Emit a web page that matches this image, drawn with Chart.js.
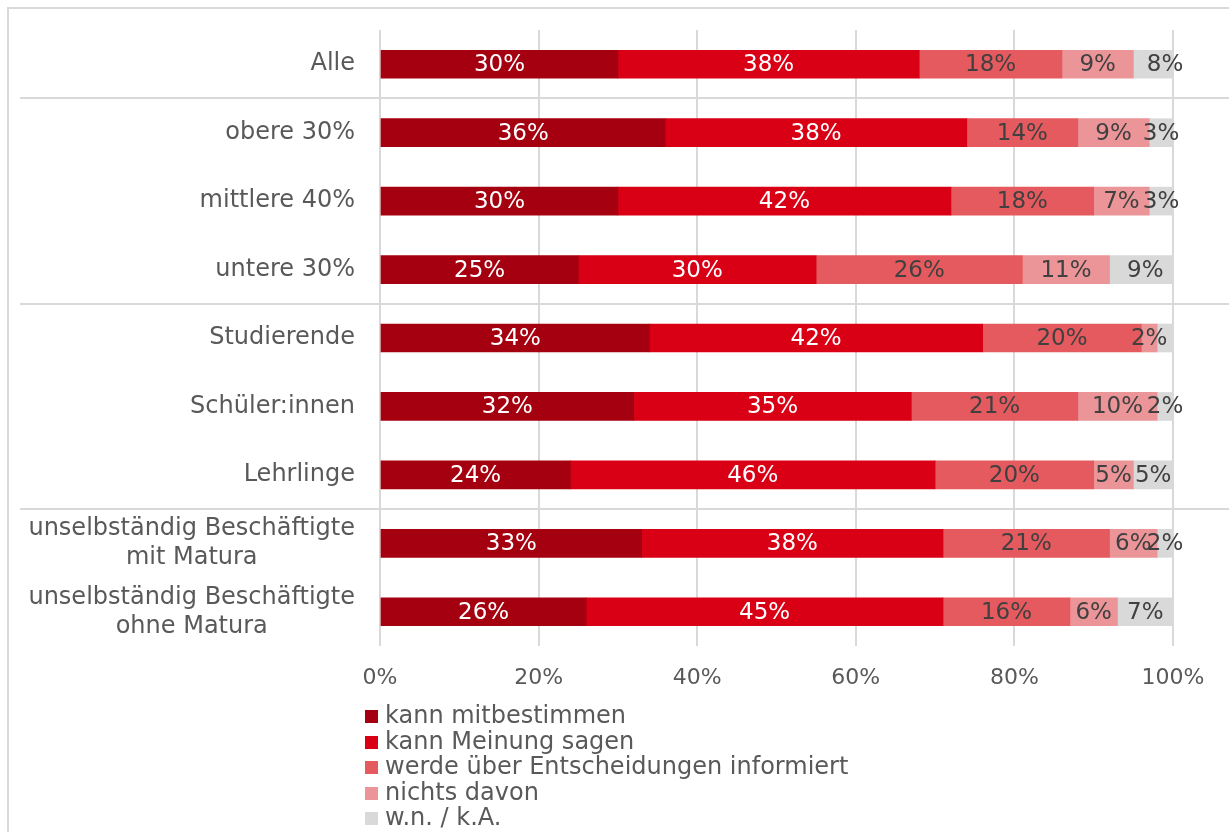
<!DOCTYPE html>
<html lang="de">
<head>
<meta charset="utf-8">
<title>Mitbestimmung</title>
<script src="https://cdn.jsdelivr.net/npm/chart.js@4.4.1/dist/chart.umd.min.js"></script>
<style>
    html, body { margin: 0; padding: 0; background: #fff; overflow: hidden; }
    #frame { position: absolute; left: 7px; top: 7px; width: 1400px; height: 1000px; border: 2px solid #d9d9d9; }
    #chart { position: absolute; left: 0; top: 0; }
    #legend { position: absolute; left: 365px; top: 703px; font-family: "DejaVu Sans", sans-serif; font-size: 24px; color: #595959; }
    #legend div { height: 25.5px; line-height: 25.5px; white-space: nowrap; }
    #legend span { display: inline-block; width: 13px; height: 13px; margin-right: 7px; vertical-align: 0px; }
</style>
</head>
<body>
<div id="frame"></div>
<canvas id="chart" width="1229" height="832"></canvas>
<div id="legend"></div>
<script>
const categories = [
    'Alle', 'obere 30%', 'mittlere 40%', 'untere 30%',
    'Studierende', 'Schüler:innen', 'Lehrlinge',
    ['unselbständig Beschäftigte', 'mit Matura'],
    ['unselbständig Beschäftigte', 'ohne Matura']
];
const seriesNames = ['kann mitbestimmen', 'kann Meinung sagen', 'werde über Entscheidungen informiert', 'nichts davon', 'w.n. / k.A.'];
const mitbestimmen = [30, 36, 30, 25, 34, 32, 24, 33, 26];
const meinungSagen = [38, 38, 42, 30, 42, 35, 46, 38, 45];
const informiert   = [18, 14, 18, 26, 20, 21, 20, 21, 16];
const nichtsDavon  = [9, 9, 7, 11, 2, 10, 5, 6, 6];
const wnKa         = [8, 3, 3, 9, 2, 2, 5, 2, 7];
const xTicks = [0, 20, 40, 60, 80, 100];

const colors = ['#a50010', '#d90015', '#e55a5e', '#ec9598', '#d9d9d9'];
const labelColors = ['#ffffff', '#ffffff', '#404040', '#404040', '#404040'];
const noLabel = ['4:4']; // dataset:index ohne Beschriftung
const groupBreaks = [0, 3, 6]; // Trennlinie nach diesen Kategorien
const FONT = '"DejaVu Sans", sans-serif';

const values = [mitbestimmen, meinungSagen, informiert, nichtsDavon, wnKa];

// Prozentwerte in die Balken schreiben
const barLabels = {
    id: 'barLabels',
    afterDatasetsDraw(chart) {
        const ctx = chart.ctx;
        ctx.save();
        ctx.font = '23px ' + FONT;
        ctx.textAlign = 'center';
        ctx.textBaseline = 'middle';
        chart.data.datasets.forEach((ds, i) => {
            chart.getDatasetMeta(i).data.forEach((bar, j) => {
                if (noLabel.includes(i + ':' + j)) return;
                const p = bar.getProps(['x', 'y', 'base'], true);
                ctx.fillStyle = labelColors[i];
                ctx.fillText(ds.data[j] + '%', (p.x + p.base) / 2, p.y + 1);
            });
        });
        ctx.restore();
    }
};

// Kategorien links + Trennlinien zwischen den Gruppen
const categoryAxis = {
    id: 'categoryAxis',
    beforeDatasetsDraw(chart) {
        const ctx = chart.ctx;
        const y = chart.scales.y;
        ctx.save();
        ctx.strokeStyle = '#d9d9d9';
        ctx.lineWidth = 2;
        groupBreaks.forEach(i => {
            const yy = Math.round((y.getPixelForValue(i) + y.getPixelForValue(i + 1)) / 2);
            ctx.beginPath();
            ctx.moveTo(20, yy);
            ctx.lineTo(chart.width, yy);
            ctx.stroke();
        });
        ctx.restore();
    },
    afterDraw(chart) {
        const ctx = chart.ctx;
        const y = chart.scales.y;
        const right = chart.chartArea.left - 25;
        ctx.save();
        ctx.font = '24px ' + FONT;
        ctx.fillStyle = '#595959';
        ctx.textBaseline = 'middle';
        categories.forEach((label, i) => {
            const cy = y.getPixelForValue(i);
            if (Array.isArray(label)) {
                const w = Math.max(...label.map(l => ctx.measureText(l).width));
                ctx.textAlign = 'center';
                label.forEach((line, k) => {
                    ctx.fillText(line, right - w / 2, cy + (k - (label.length - 1) / 2) * 29);
                });
            } else {
                ctx.textAlign = 'right';
                ctx.fillText(label, right, cy);
            }
        });
        ctx.restore();
    }
};

const chart = new Chart(document.getElementById('chart'), {
    type: 'bar',
    data: {
        labels: categories,
        datasets: values.map((v, i) => ({
            label: seriesNames[i],
            data: v,
            backgroundColor: colors[i],
            borderWidth: 0,
            barThickness: 28
        }))
    },
    options: {
        indexAxis: 'y',
        responsive: false,
        animation: false,
        layout: { padding: { top: 30, right: 56, left: 0, bottom: 0 } },
        plugins: {
            legend: { display: false },
            tooltip: { enabled: false }
        },
        scales: {
            x: {
                stacked: true,
                min: 0,
                max: 100,
                afterBuildTicks: scale => { scale.ticks = xTicks.map(v => ({ value: v })); },
                afterFit: scale => { scale.height = 186; },
                ticks: {
                    callback: v => v + '%',
                    padding: 19,
                    color: '#595959',
                    font: { family: FONT, size: 22 }
                },
                grid: { color: '#d9d9d9', lineWidth: 2, drawTicks: false },
                border: { display: false }
            },
            y: {
                stacked: true,
                afterFit: scale => { scale.width = 380; },
                ticks: { display: false },
                grid: { display: false },
                border: { display: false }
            }
        }
    },
    plugins: [barLabels, categoryAxis]
});

// Legende untereinander
const legendDiv = document.getElementById('legend');
chart.data.datasets.forEach(ds => {
    legendDiv.innerHTML += `<div><span style="background:${ds.backgroundColor}"></span>${ds.label}</div>`;
});
</script>
</body>
</html>
